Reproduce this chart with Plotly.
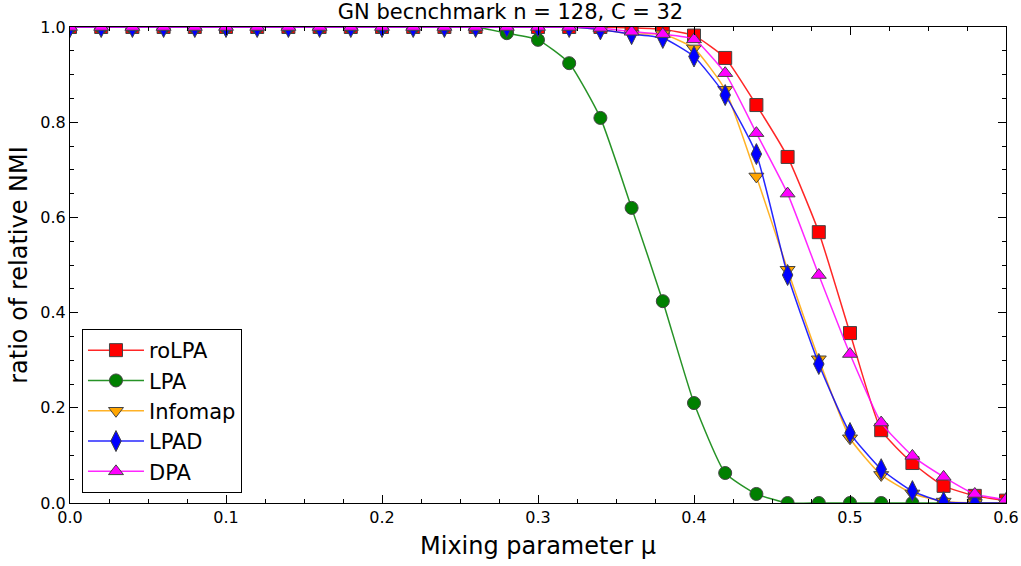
import plotly.graph_objects as go

mu = [round(0.02 * i, 2) for i in range(31)]

rolpa = [1.0]*18 + [0.998, 0.995, 0.982, 0.935, 0.836, 0.727, 0.569, 0.357, 0.153, 0.084, 0.036, 0.015, 0.005]
lpa = [1.0]*14 + [0.987, 0.973, 0.924, 0.809, 0.62, 0.424, 0.21, 0.063, 0.019, 0.0, 0.0, 0.0, 0.0, 0.0, 0.0, 0.0, 0.0]
infomap = [1.0]*17 + [0.995, 0.985, 0.985, 0.955, 0.868, 0.686, 0.49, 0.302, 0.136, 0.059, 0.02, 0.003, 0.0, 0.0]
lpad = [1.0]*17 + [0.995, 0.985, 0.977, 0.938, 0.857, 0.733, 0.479, 0.292, 0.147, 0.071, 0.025, 0.002, 0.0, 0.0]
dpa = [1.0]*17 + [0.998, 0.99, 0.985, 0.974, 0.903, 0.777, 0.65, 0.479, 0.313, 0.169, 0.099, 0.055, 0.019, 0.007]

series = [
    ("roLPA", rolpa, "rgba(255,0,0,0.85)", "red", "square"),
    ("LPA", lpa, "rgba(0,128,0,0.85)", "green", "circle"),
    ("Infomap", infomap, "rgba(255,165,0,0.85)", "orange", "triangle-down"),
    ("LPAD", lpad, "rgba(0,0,255,0.85)", "blue", "diamond-tall"),
    ("DPA", dpa, "rgba(255,0,255,0.85)", "magenta", "triangle-up"),
]

fig = go.Figure()
for name, ys, lc, mc, sym in series:
    fig.add_trace(go.Scatter(
        x=mu, y=ys, name=name, mode="lines+markers",
        line=dict(color=lc, width=1.5, shape="spline", smoothing=0.5),
        marker=dict(symbol=sym, size=13 if sym != "diamond-tall" else 15, color=mc,
                    line=dict(color="#444444", width=1)),
        cliponaxis=True,
    ))

axis_common = dict(
    showgrid=False, zeroline=False, showline=True, linecolor="black", linewidth=1,
    mirror="ticks", ticks="inside", ticklen=8, tickcolor="black", tickwidth=1,
    tickfont=dict(family="DejaVu Sans", size=16, color="black"),
    tickformat=".1f", automargin=False,
)

fig.update_layout(
    width=1021, height=566, autosize=False,
    margin=dict(l=70, r=15, t=27, b=63, autoexpand=False),
    plot_bgcolor="white", paper_bgcolor="white",
    font=dict(family="DejaVu Sans", color="black"),
    title=dict(text="GN becnchmark n = 128, C = 32", x=0.5, xanchor="center",
               y=0.979, yanchor="middle", font=dict(size=21, color="black")),
    xaxis=dict(range=[0, 0.6], dtick=0.1, tick0=0,
               minor=dict(ticks="inside", dtick=0.025, ticklen=4, tickcolor="black"),
               title=dict(text="Mixing parameter μ", font=dict(size=24), standoff=10),
               **axis_common),
    yaxis=dict(range=[0, 1.0], dtick=0.2, tick0=0,
               minor=dict(ticks="inside", dtick=0.05, ticklen=4, tickcolor="black"),
               title=dict(text="ratio of relative NMI", font=dict(size=24), standoff=5),
               **axis_common),
    legend=dict(x=0.0128, y=0.021, xanchor="left", yanchor="bottom",
                bordercolor="black", borderwidth=1, bgcolor="white",
                font=dict(size=21, color="black"), itemwidth=56,
                tracegroupgap=0),
    showlegend=True,
)

fig.write_html("out.html",
               config={"displayModeBar": False, "responsive": False},
               post_script="document.body.style.margin='0';document.body.style.padding='0';document.body.style.overflow='hidden';")
